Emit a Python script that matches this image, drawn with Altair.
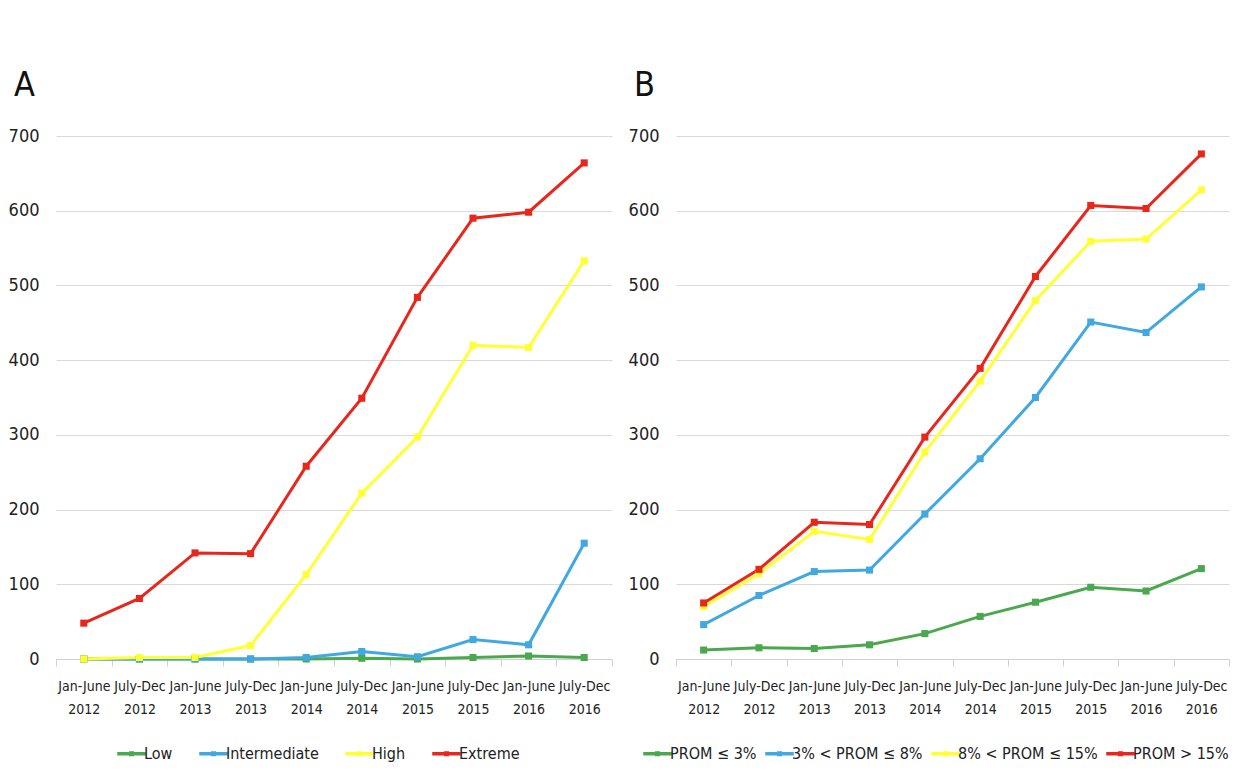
import altair as alt
import pandas as pd

periods = ["Jan-June 2012", "July-Dec 2012", "Jan-June 2013", "July-Dec 2013",
           "Jan-June 2014", "July-Dec 2014", "Jan-June 2015", "July-Dec 2015",
           "Jan-June 2016", "July-Dec 2016"]

# Panel A
a_series = ["Low", "Intermediate", "High", "Extreme"]
a_low = [0, 0, 0, 0, 0, 1, 0, 2, 4, 2]
a_intermediate = [0, 0, 0, 0, 2, 10, 3, 26, 19, 155]
a_high = [0, 2, 2, 18, 113, 222, 297, 420, 417, 533]
a_extreme = [48, 81, 142, 141, 258, 349, 484, 590, 598, 664]

# Panel B
b_series = ["PROM ≤ 3%", "3% < PROM ≤ 8%", "8% < PROM ≤ 15%", "PROM > 15%"]
b_1 = [12, 15, 14, 19, 34, 57, 76, 96, 91, 121]
b_2 = [46, 85, 117, 119, 194, 268, 350, 451, 437, 498]
b_3 = [70, 114, 171, 160, 277, 372, 480, 559, 562, 628]
b_4 = [75, 120, 183, 180, 297, 389, 512, 607, 603, 676]

colors = ["#4aa84e", "#41a8e0", "#ffff33", "#e8261c"]
FONT = "DejaVu Sans Condensed, Liberation Sans Narrow, Lato, sans-serif"


def make_df(names, series_lists):
    rows = []
    for name, vals in zip(names, series_lists):
        for p, v in zip(periods, vals):
            rows.append({"period": p, "series": name, "value": v})
    return pd.DataFrame(rows)


legend_symbol = ("M-1.3,-0.04L1.3,-0.04L1.3,0.04L-1.3,0.04Z"
                 "M-0.13,-0.13L0.13,-0.13L0.13,0.13L-0.13,0.13Z")


def panel(df, names, title, width, lx, ly, colpad):
    x = alt.X("period:N", sort=periods, title=None,
              scale=alt.Scale(paddingInner=0, paddingOuter=0),
              axis=alt.Axis(labelAngle=0, labelExpr="split(datum.label, ' ')",
                            labelFont=FONT, labelFontSize=14, labelColor="#222",
                            labelPadding=13, labelLineHeight=23,
                            domainColor="#d0d0d0", tickColor="#d0d0d0",
                            tickBand="extent", tickSize=7, grid=False))
    y = alt.Y("value:Q", title=None,
              scale=alt.Scale(domain=[0, 700], nice=False),
              axis=alt.Axis(values=list(range(0, 701, 100)), labelFont=FONT,
                            labelFontSize=18, labelColor="#222", labelPadding=17,
                            domain=False, ticks=False, gridColor="#d9d9d9"))
    color = alt.Color("series:N", sort=names,
                      scale=alt.Scale(domain=names, range=colors),
                      legend=alt.Legend(title=None, orient="none",
                                        legendX=lx, legendY=ly,
                                        direction="horizontal",
                                        labelFont=FONT, labelFontSize=16,
                                        labelColor="#222",
                                        symbolType=legend_symbol,
                                        symbolSize=400, symbolStrokeWidth=2.5,
                                        columnPadding=colpad, labelOffset=1))
    chart = alt.Chart(df).mark_line(
        strokeWidth=3,
        point=alt.OverlayMarkDef(shape="square", size=50, filled=True)
    ).encode(x=x, y=y, color=color, detail="series:N").properties(
        width=width, height=523,
        title=alt.Title(title, anchor="start", frame="bounds", font=FONT,
                        fontSize=34, fontWeight="normal", color="#111",
                        offset=24, dx=6))
    return chart


chart_a = panel(make_df(a_series, [a_low, a_intermediate, a_high, a_extreme]),
                a_series, "A", 556, 64, 606, 22)
chart_b = panel(make_df(b_series, [b_1, b_2, b_3, b_4]),
                b_series, "B", 553, -30, 606, 4)

chart = alt.hconcat(chart_a, chart_b, spacing=15).resolve_scale(
    color="independent").configure_view(stroke=None).properties(
    padding={"top": 61, "left": 0, "right": 0, "bottom": 0},
    background="white")

chart.save("out.html", embed_options={"renderer": "svg", "actions": False})
